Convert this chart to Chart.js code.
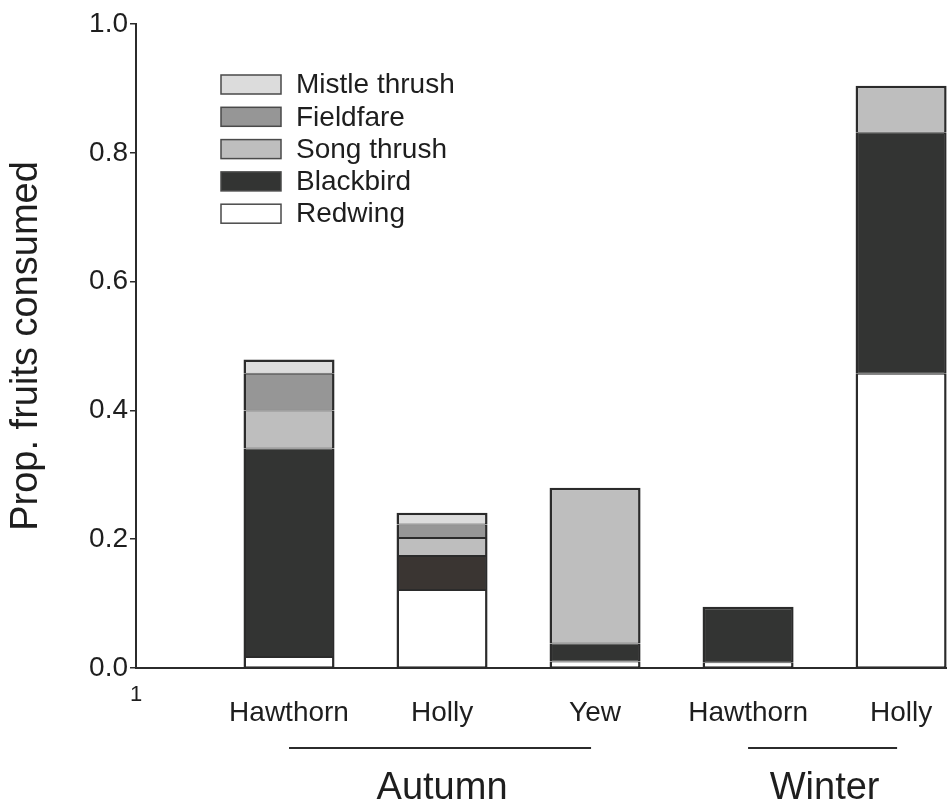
<!DOCTYPE html>
<html>
<head>
<meta charset="utf-8">
<script src="https://cdn.jsdelivr.net/npm/chart.js"></script>
<style>
  html, body { margin: 0; padding: 0; background: #fff; }
  #wrap { width: 947px; height: 805px; }
</style>
</head>
<body>
<div id="wrap"><canvas id="grafic"></canvas></div>
<script>
// data
const categories = ['1', 'Hawthorn', 'Holly', 'Yew', 'Hawthorn', 'Holly'];
const barPos = [1, 2, 3, 4, 5];
const redwing = [0.017, 0.121, 0.010, 0.009, 0.457];
const blackbird = [0.324, 0.053, 0.028, 0.086, 0.374];
const songThrush = [0.059, 0.028, 0.242, 0, 0.073];
const fieldfare = [0.057, 0.021, 0, 0, 0];
const mistleThrush = [0.022, 0.018, 0, 0, 0];
const yTicks = [0, 0.2, 0.4, 0.6, 0.8, 1.0];
const seasons = ['Autumn', 'Winter'];
const seasonFrom = [1, 4];
const seasonTo = [3, 5];

const FONT = '"Liberation Sans", Arial, sans-serif';
const INK = '#1e1e1e';
const EDGE = '#2b2b2b';

function points(values) {
    return values.map((v, i) => ({x: barPos[i], y: v}));
}

// thicker outline on the outside of each stack
function border_of(c) {
    const i = c.dataIndex;
    let top = -1;
    c.chart.data.datasets.forEach((d, k) => {
        if (d.data[i] && d.data[i].y > 0) top = k;
    });
    return {top: c.datasetIndex === top ? 2.5 : 1, bottom: 1, left: 2.5, right: 2.5};
}

function make_set(label, values, color) {
    return {
        label: label,
        data: points(values),
        backgroundColor: color,
        borderColor: EDGE,
        borderWidth: border_of,
        borderSkipped: false,
        barPercentage: 0.595,
        categoryPercentage: 1
    };
}

// legend + season brackets
const extras = {
    id: 'extras',
    afterDraw(chart) {
        const ctx = chart.ctx;
        const area = chart.chartArea;
        const xs = chart.scales.x;
        ctx.save();
        const items = chart.data.datasets.slice().reverse();
        items.forEach((ds, i) => {
            const cy = area.top + 60.5 + i * 32.3;
            const bx = area.left + 85;
            const fill = Array.isArray(ds.backgroundColor) ? ds.backgroundColor[0] : ds.backgroundColor;
            ctx.fillStyle = fill;
            ctx.fillRect(bx, cy - 9.5, 60, 19);
            ctx.lineWidth = 1.5;
            ctx.strokeStyle = '#4a4a4a';
            ctx.strokeRect(bx, cy - 9.5, 60, 19);
            ctx.fillStyle = INK;
            ctx.font = '28px ' + FONT;
            ctx.textAlign = 'left';
            ctx.textBaseline = 'middle';
            ctx.fillText(ds.label, bx + 75, cy + 1);
        });
        seasons.forEach((s, i) => {
            const x1 = xs.getPixelForValue(seasonFrom[i]);
            const x2 = xs.getPixelForValue(seasonTo[i]);
            ctx.strokeStyle = EDGE;
            ctx.lineWidth = 2;
            ctx.beginPath();
            ctx.moveTo(x1, area.bottom + 80);
            ctx.lineTo(x2 - 4, area.bottom + 80);
            ctx.stroke();
            ctx.fillStyle = INK;
            ctx.font = '38px ' + FONT;
            ctx.textAlign = 'center';
            ctx.textBaseline = 'middle';
            ctx.fillText(s, (x1 + x2) / 2, area.bottom + 121);
        });
        ctx.restore();
    }
};

const ctx = document.getElementById('grafic');
const chart = new Chart(ctx, {
    type: 'bar',
    data: {
        datasets: [
            make_set('Redwing', redwing, '#ffffff'),
            make_set('Blackbird', blackbird, ['#333433', '#3a3532', '#333433', '#333433', '#333433']),
            make_set('Song thrush', songThrush, '#bebebe'),
            make_set('Fieldfare', fieldfare, '#969696'),
            make_set('Mistle thrush', mistleThrush, '#dcdcdc')
        ]
    },
    options: {
        responsive: true,
        maintainAspectRatio: false,
        animation: false,
        layout: {padding: {top: 24, right: 0, bottom: 0, left: 0}},
        plugins: {
            legend: {display: false},
            tooltip: {enabled: false}
        },
        scales: {
            x: {
                type: 'linear',
                min: 0,
                max: 5.3,
                stacked: true,
                offset: false,
                grid: {display: false, drawTicks: false},
                border: {display: true, color: EDGE, width: 2},
                ticks: {
                    stepSize: 1,
                    includeBounds: false,
                    padding: 3,
                    color: INK,
                    maxRotation: 0,
                    autoSkip: false,
                    callback: (v) => categories[v] ?? '',
                    font: (c) => c.index === 0
                        ? {family: FONT, size: 22, lineHeight: 2.18}
                        : {family: FONT, size: 28, lineHeight: 3.0}
                },
                afterFit: (s) => { s.height = 137; }
            },
            y: {
                stacked: true,
                min: 0,
                max: 1,
                grid: {display: true, drawOnChartArea: false, drawTicks: true, tickLength: 6, color: EDGE, lineWidth: 1.5},
                border: {display: true, color: EDGE, width: 2},
                afterBuildTicks: (s) => { s.ticks = yTicks.map(v => ({value: v})); },
                ticks: {
                    padding: 2,
                    color: INK,
                    font: {family: FONT, size: 28},
                    callback: (v) => v.toFixed(1)
                },
                title: {
                    display: true,
                    text: 'Prop. fruits consumed',
                    color: INK,
                    font: {family: FONT, size: 38},
                    padding: {top: 4, bottom: 0}
                },
                afterFit: (s) => { s.width = 136; }
            }
        }
    },
    plugins: [extras]
});
</script>
</body>
</html>
